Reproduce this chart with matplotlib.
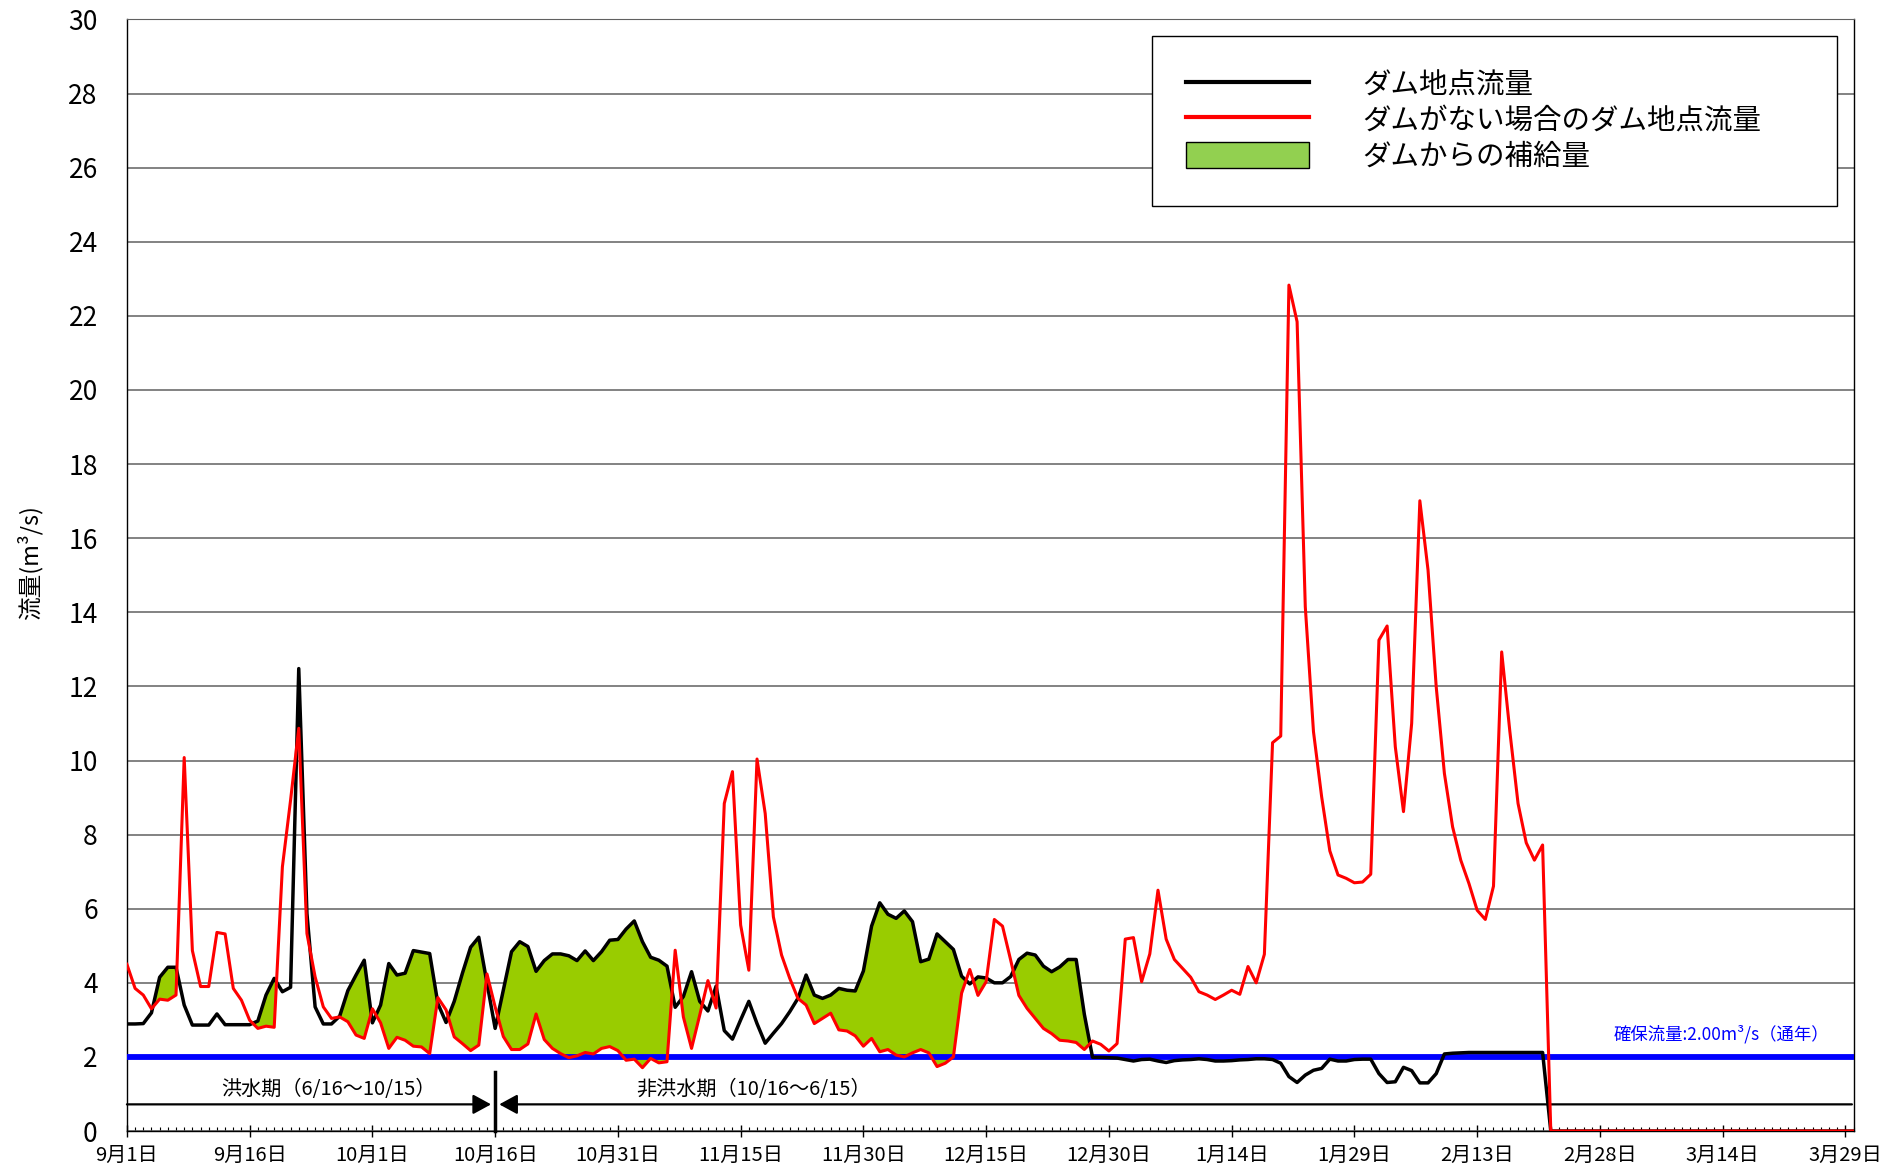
import matplotlib
matplotlib.use("Agg")
import matplotlib.pyplot as plt
from matplotlib.lines import Line2D
from matplotlib.patches import Patch
import numpy as np

plt.rcParams['font.family'] = ['Noto Sans CJK JP', 'DejaVu Sans']

# daily flow (m3/s), 9/1 .. 3/30
dam_flow = [
    2.89, 2.89, 2.90, 3.19, 4.15, 4.42, 4.42, 3.40, 2.86, 2.86,
    2.86, 3.16, 2.87, 2.87, 2.87, 2.87, 2.97, 3.67, 4.12, 3.76,
    3.88, 12.48, 5.87, 3.35, 2.89, 2.89, 3.10, 3.79, 4.21, 4.61,
    2.92, 3.40, 4.52, 4.21, 4.26, 4.87, 4.83, 4.79, 3.44, 2.93,
    3.50, 4.26, 4.96, 5.23, 4.00, 2.77, 3.80, 4.84, 5.11, 4.98,
    4.31, 4.60, 4.78, 4.78, 4.73, 4.60, 4.86, 4.60, 4.84, 5.15,
    5.17, 5.45, 5.67, 5.11, 4.69, 4.61, 4.45, 3.34, 3.63, 4.30,
    3.50, 3.24, 3.91, 2.71, 2.48, 3.00, 3.50, 2.90, 2.37, 2.64,
    2.90, 3.22, 3.58, 4.21, 3.67, 3.58, 3.67, 3.85, 3.80, 3.78,
    4.32, 5.53, 6.16, 5.85, 5.74, 5.94, 5.65, 4.57, 4.64, 5.32,
    5.11, 4.90, 4.18, 3.97, 4.16, 4.13, 4.00, 4.00, 4.17, 4.63,
    4.80, 4.75, 4.45, 4.30, 4.43, 4.63, 4.63, 3.15, 1.99, 1.99,
    1.98, 1.97, 1.93, 1.89, 1.93, 1.94, 1.89, 1.85, 1.90, 1.92,
    1.93, 1.95, 1.93, 1.89, 1.89, 1.90, 1.92, 1.93, 1.95, 1.95,
    1.93, 1.83, 1.47, 1.31, 1.51, 1.64, 1.69, 1.94, 1.89, 1.89,
    1.93, 1.94, 1.94, 1.55, 1.31, 1.33, 1.72, 1.63, 1.30, 1.30,
    1.55, 2.08, 2.10, 2.11, 2.12, 2.12, 2.12, 2.12, 2.12, 2.12,
    2.12, 2.12, 2.12, 2.12,
] + [0.0] * 38

natural_flow = [
    4.50, 3.85, 3.67, 3.30, 3.56, 3.53, 3.67, 10.08, 4.87, 3.90,
    3.90, 5.36, 5.32, 3.85, 3.53, 2.99, 2.77, 2.83, 2.80, 7.13,
    8.93, 10.87, 5.33, 4.16, 3.35, 3.04, 3.08, 2.95, 2.59, 2.50,
    3.30, 2.92, 2.23, 2.53, 2.45, 2.29, 2.27, 2.09, 3.60, 3.27,
    2.54, 2.36, 2.17, 2.32, 4.24, 3.35, 2.55, 2.20, 2.20, 2.35,
    3.16, 2.47, 2.23, 2.09, 1.98, 2.03, 2.12, 2.08, 2.23, 2.28,
    2.17, 1.91, 1.94, 1.71, 1.96, 1.84, 1.87, 4.88, 3.08, 2.23,
    3.13, 4.06, 3.32, 8.84, 9.70, 5.56, 4.34, 10.04, 8.57, 5.78,
    4.75, 4.12, 3.58, 3.40, 2.90, 3.04, 3.18, 2.73, 2.70, 2.57,
    2.29, 2.50, 2.14, 2.20, 2.05, 2.00, 2.11, 2.20, 2.11, 1.74,
    1.83, 2.00, 3.72, 4.36, 3.66, 4.03, 5.71, 5.53, 4.61, 3.66,
    3.31, 3.04, 2.77, 2.63, 2.45, 2.43, 2.39, 2.20, 2.43, 2.34,
    2.16, 2.36, 5.18, 5.22, 4.03, 4.78, 6.50, 5.18, 4.63, 4.39,
    4.15, 3.76, 3.67, 3.55, 3.67, 3.80, 3.69, 4.44, 4.00, 4.77,
    10.48, 10.66, 22.83, 21.84, 14.15, 10.78, 9.02, 7.56, 6.91, 6.82,
    6.70, 6.72, 6.93, 13.25, 13.63, 10.37, 8.62, 11.00, 17.01, 15.14,
    11.99, 9.65, 8.21, 7.31, 6.68, 5.96, 5.71, 6.61, 12.93, 10.78,
    8.84, 7.78, 7.31, 7.72,
] + [0.0] * 38

tick_labels = ['9月1日', '9月16日', '10月1日', '10月16日', '10月31日', '11月15日',
               '11月30日', '12月15日', '12月30日', '1月14日', '1月29日', '2月13日',
               '2月28日', '3月14日', '3月29日']

secured_flow = 2.0
flood_end_day = 45      # 10/16
period_y = 0.72

days = np.arange(len(dam_flow))
dam = np.array(dam_flow)
nat = np.array(natural_flow)

fig = plt.figure(figsize=(18.97, 11.70), dpi=100)
ax = fig.add_axes([0.0669, 0.0333, 0.9102, 0.9501])

ax.fill_between(days, nat, dam, where=dam > nat, interpolate=True,
                color='#99CC00', linewidth=0, zorder=2)
ax.axhline(secured_flow, color='#0000FF', lw=4.2, zorder=3)
ax.plot(days, dam, color='black', lw=2.5, zorder=4)
ax.plot(days, nat, color='#FF0000', lw=2.2, zorder=5)

ax.text(208, 2.62, '確保流量:2.00m³/s（通年）', color='#0000FF', fontsize=12.5,
        ha='right', va='center')

# flood / non-flood period arrows
ax.plot([flood_end_day, flood_end_day], [0, 1.6], color='black', lw=2.5,
        zorder=6, clip_on=False)
arrow = dict(arrowstyle='-|>,head_length=0.55,head_width=0.3',
             color='black', lw=1.6, shrinkA=0, shrinkB=0, mutation_scale=20)
ax.annotate('', xy=(flood_end_day - 0.5, period_y), xytext=(0, period_y),
            arrowprops=arrow)
ax.annotate('', xy=(flood_end_day + 0.5, period_y), xytext=(210.8, period_y),
            arrowprops=arrow)
ax.text(24.6, 1.13, '洪水期（6/16～10/15）', fontsize=14.5, ha='center', va='center')
ax.text(76.6, 1.13, '非洪水期（10/16～6/15）', fontsize=14.5, ha='center', va='center')

ax.set_xlim(0, 211)
ax.set_ylim(0, 30)
ax.set_yticks(np.arange(0, 31, 2))
ax.set_xticks(np.arange(0, 211, 15))
ax.set_xticklabels(tick_labels)
ax.set_xticks(days, minor=True)
ax.tick_params(axis='x', which='major', direction='inout', length=8, width=1,
               labelsize=14.5, pad=6)
ax.tick_params(axis='x', which='minor', direction='in', length=3, width=0.8)
ax.tick_params(axis='y', direction='in', length=0, labelsize=19, pad=21)
ax.yaxis.grid(True, color='#606060', lw=1.1)
ax.set_axisbelow(True)
for s in ['left', 'bottom', 'right']:
    ax.spines[s].set_color('black')
    ax.spines[s].set_linewidth(1.0)
ax.spines['top'].set_color('#606060')

ax.set_ylabel('流量(m³/s)', fontsize=17)
ax.yaxis.set_label_coords(-0.049, 0.511)

handles = [Line2D([], [], color='black', lw=3),
           Line2D([], [], color='#FF0000', lw=3),
           Patch(facecolor='#92D050', edgecolor='black', lw=1)]
labels = ['ダム地点流量', 'ダムがない場合のダム地点流量', 'ダムからの補給量']
leg = ax.legend(handles, labels, loc='upper left',
                bbox_to_anchor=(0.5937, 0.8357, 0.3968, 0.1493), mode='expand',
                fontsize=20.5, handlelength=4.3, handleheight=1.05,
                handletextpad=1.9, borderpad=1.2, labelspacing=0.2,
                frameon=True, fancybox=False, edgecolor='black', framealpha=1,
                borderaxespad=0)
leg.get_frame().set_linewidth(1.0)

fig.savefig('out.png', dpi=100)
